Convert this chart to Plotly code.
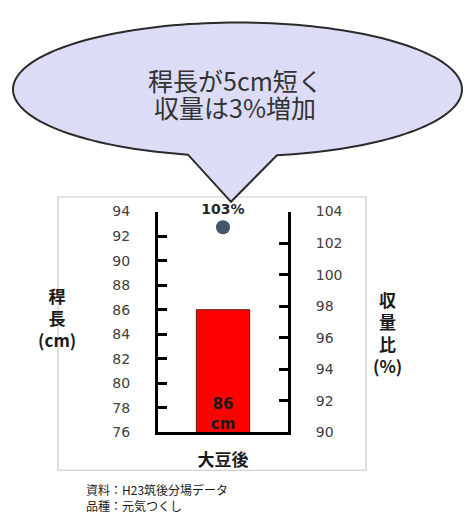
import numpy as np
import plotly.graph_objects as go

# ---- data ----
categories = ["大豆後"]
culm_length_cm = [86]          # 稈長 (left axis)
yield_ratio_pct = [103]        # 収量比 (right axis)
bar_labels = ["86<br>cm"]
point_labels = ["103%"]
left_ticks = [76, 78, 80, 82, 84, 86, 88, 90, 92, 94]
right_ticks = [90, 92, 94, 96, 98, 100, 102, 104]
left_range = [76, 94]
right_range = [90, 104]

W, H = 464, 518
def px(x):
    return x / W
def py(y):
    return 1 - y / H

JP = "Noto Sans CJK JP"
NUM = "DejaVu Sans"
TICKC = "#404040"

fig = go.Figure()
fig.add_trace(go.Bar(
    x=categories, y=culm_length_cm, width=0.41,
    marker=dict(color="#ff0000", line=dict(color="#5a1a1a", width=1)),
    showlegend=False, hoverinfo="x+y",
))
# bar value label, placed at the bottom of the bar
fig.add_trace(go.Scatter(
    x=categories, y=[left_range[0]] * len(categories), mode="text",
    text=bar_labels, textposition="top center",
    textfont=dict(family=NUM, size=15, color="#1a1a1a", weight="bold"),
    cliponaxis=False, showlegend=False, hoverinfo="skip",
))
fig.add_trace(go.Scatter(
    x=categories, y=yield_ratio_pct, yaxis="y2", mode="markers+text",
    marker=dict(color="#44546a", size=14),
    text=point_labels, textposition="top center",
    textfont=dict(family=NUM, size=14, color="#262626", weight="bold"),
    cliponaxis=False, showlegend=False,
))

# speech bubble path (pixel -> paper)
cx, cy, a, b = 237.5, 84.0, 224.5, 69.0
t0 = np.arccos((277 - cx) / a)
t1 = np.arccos((188 - cx) / a) - 2 * np.pi
ts = np.linspace(t0, t1, 160)
pts = [(cx + a * np.cos(t), cy + b * np.sin(t)) for t in ts]
pts.append((231, 200))
path = "M " + " L ".join(f"{px(x):.5f},{py(y):.5f}" for x, y in pts) + " Z"

shapes = [
    dict(type="rect", xref="paper", yref="paper",
         x0=px(58), x1=px(366), y0=py(477), y1=py(195),
         line=dict(color="#c8c8c8", width=1.2), fillcolor="rgba(0,0,0,0)", layer="below"),
    dict(type="path", xref="paper", yref="paper", path=path,
         fillcolor="#dcdcf6", line=dict(color="#2b2b2b", width=2)),
]

def ann(text, x, y, size, xanchor="center", align="center", color="#1a1a1a"):
    return dict(text=text, x=px(x), y=py(y), xref="paper", yref="paper",
                xanchor=xanchor, yanchor="middle", showarrow=False, align=align,
                font=dict(family=JP, size=size, color=color))

annotations = [
    ann("稈長が5cm短く", 235, 74, 25, color="#333333"),
    ann("収量は3%増加", 235, 102, 25, color="#333333"),
    ann("<b>稈</b><br><b>長</b><br><b>(cm)</b>", 57, 319, 17),
    ann("<b>収</b><br><b>量</b><br><b>比</b><br><b>(%)</b>", 387, 335, 17),
    ann("資料：H23筑後分場データ<br>品種：元気つくし", 84, 505, 12,
        xanchor="left", align="left"),
]

fig.update_layout(
    width=W, height=H, autosize=False,
    margin=dict(l=0, r=0, t=0, b=0),
    paper_bgcolor="white", plot_bgcolor="white",
    shapes=shapes, annotations=annotations,
    xaxis=dict(domain=[px(158), px(288)], type="category", range=[-0.5, 0.5],
               showline=True, linecolor="black", linewidth=3, ticks="",
               showgrid=False, ticklabelstandoff=10,
               tickfont=dict(family=JP, size=17, color="#1a1a1a", weight="bold")),
    yaxis=dict(domain=[py(438), py(210)], range=left_range, tickvals=left_ticks,
               showline=True, linecolor="black", linewidth=3,
               ticks="inside", ticklen=9, tickwidth=2.5, tickcolor="black",
               showgrid=False, zeroline=False, ticklabelstandoff=22,
               tickfont=dict(family=NUM, size=14, color=TICKC)),
    yaxis2=dict(domain=[py(438), py(210)], range=right_range, tickvals=right_ticks,
                overlaying="y", side="right", anchor="x",
                showline=True, linecolor="black", linewidth=3,
                ticks="inside", ticklen=9, tickwidth=2.5, tickcolor="black",
                showgrid=False, zeroline=False, ticklabelstandoff=22,
                tickfont=dict(family=NUM, size=14, color=TICKC)),
)

fig.write_html("out.html")
